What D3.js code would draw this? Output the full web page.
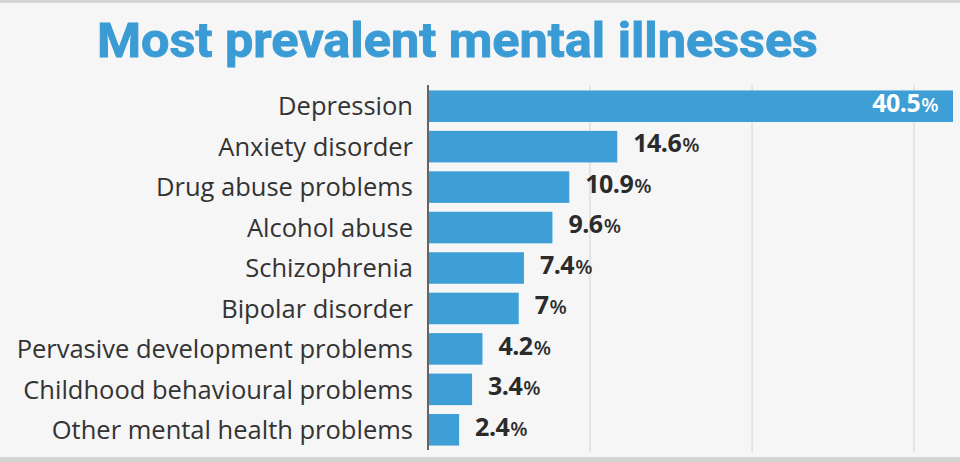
<!DOCTYPE html>
<head>
  <meta charset="utf-8">
  <script src="https://cdn.jsdelivr.net/npm/d3@7/dist/d3.min.js"></script>
</head>

<style>
  body { margin: 0; background: #f6f6f6; }
  svg { display: block; }
</style>
<body>
<script>

var categories = [
  "Depression",
  "Anxiety disorder",
  "Drug abuse problems",
  "Alcohol abuse",
  "Schizophrenia",
  "Bipolar disorder",
  "Pervasive development problems",
  "Childhood behavioural problems",
  "Other mental health problems"
];
var values = [40.5, 14.6, 10.9, 9.6, 7.4, 7, 4.2, 3.4, 2.4];
var valueLabels = ["40.5", "14.6", "10.9", "9.6", "7.4", "7", "4.2", "3.4", "2.4"];
var gridTicks = [12.5, 25, 37.5];

var width = 960,
    height = 462,
    margin = {top: 90, right: 7, bottom: 16, left: 428};

var blue = "#3d9fd5";

var svg = d3.select("body").append("svg")
    .attr("width", width)
    .attr("height", height);

// background + grey frame strips
svg.append("rect").attr("width", width).attr("height", height).attr("fill", "#f6f6f6");
svg.append("rect").attr("width", width).attr("height", 3).attr("fill", "#d4d4d4");
svg.append("rect").attr("y", 457).attr("width", width).attr("height", 5).attr("fill", "#d4d4d4");

svg.append("text")
    .attr("x", 97)
    .attr("y", 57)
    .attr("textLength", 721)
    .attr("lengthAdjust", "spacingAndGlyphs")
    .style("font-family", "Roboto, sans-serif")
    .style("font-weight", 700)
    .style("font-size", "49px")
    .style("fill", "#3a9bd5")
    .style("stroke", "#3a9bd5")
    .style("stroke-width", 0.9)
    .text("Most prevalent mental illnesses");

var x = d3.scaleLinear()
    .domain([0, 40.5])
    .range([margin.left, 953]);

var y = d3.scaleBand()
    .domain(categories)
    .range([margin.top - 4, 450])
    .paddingInner(0.22)
    .paddingOuter(0.11);

var g = svg.append("g");

// gridlines
g.selectAll(".grid")
    .data(gridTicks)
  .enter().append("line")
    .attr("class", "grid")
    .attr("x1", function(d) { return x(d); })
    .attr("x2", function(d) { return x(d); })
    .attr("y1", 85)
    .attr("y2", 452)
    .attr("stroke", "#d9d9d9")
    .attr("stroke-width", 1.2);

g.selectAll(".bar")
    .data(values)
  .enter().append("rect")
    .attr("class", "bar")
    .attr("x", x(0) + 1)
    .attr("y", function(d, i) { return y(categories[i]); })
    .attr("width", function(d) { return x(d) - x(0) - 1; })
    .attr("height", y.bandwidth())
    .attr("fill", blue);

// axis line
g.append("line")
    .attr("x1", x(0)).attr("x2", x(0))
    .attr("y1", 85).attr("y2", 450)
    .attr("stroke", "#333")
    .attr("stroke-width", 1.5);

// category labels
g.selectAll(".cat")
    .data(categories)
  .enter().append("text")
    .attr("class", "cat")
    .attr("x", 413)
    .attr("y", function(d) { return y(d) + y.bandwidth() / 2; })
    .attr("dy", "0.36em")
    .attr("text-anchor", "end")
    .style("font-family", "'Open Sans', sans-serif")
    .style("font-size", "25.5px")
    .style("fill", "#333")
    .text(function(d) { return d; });

// value labels
var vl = g.selectAll(".val")
    .data(values)
  .enter().append("text")
    .attr("class", "val")
    .attr("x", function(d, i) { return i == 0 ? x(d) - 15 : x(d) + 16; })
    .attr("y", function(d, i) { return y(categories[i]) + y.bandwidth() / 2; })
    .attr("dy", "0.36em")
    .attr("text-anchor", function(d, i) { return i == 0 ? "end" : "start"; })
    .style("font-family", "'Open Sans', sans-serif")
    .style("font-weight", 700)
    .style("letter-spacing", "-0.5px")
    .style("fill", function(d, i) { return i == 0 ? "#fff" : "#2b2b2b"; });

vl.append("tspan")
    .style("font-size", "25px")
    .text(function(d, i) { return valueLabels[i]; });
vl.append("tspan")
    .attr("dx", 1)
    .style("font-size", "20px")
    .style("font-weight", 600)
    .text("%");

</script>
</body>
